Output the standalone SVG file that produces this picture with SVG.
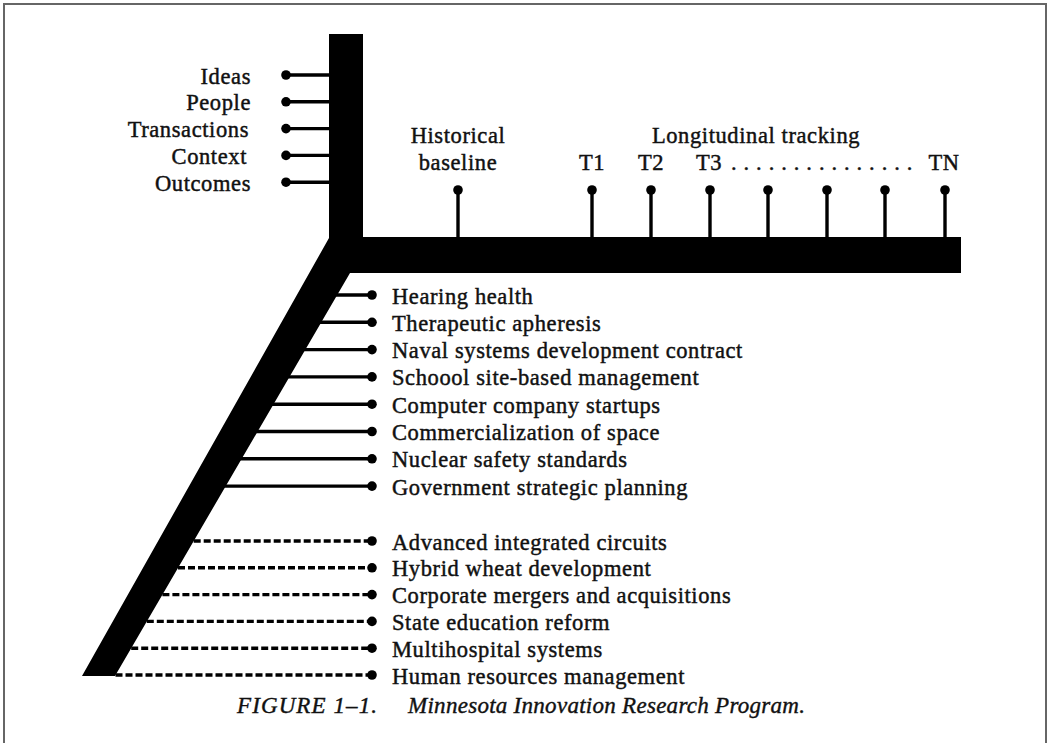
<svg xmlns="http://www.w3.org/2000/svg" width="1048" height="743" viewBox="0 0 1048 743">
  <style>
    .lbl { font-family: "Liberation Serif", "Times New Roman", serif; font-size: 22.5px; letter-spacing: 0.6px; fill: #111; stroke: #111; stroke-width: 0.45px; }
    .end { text-anchor: end; }
    .mid { text-anchor: middle; }
    .cap { font-family: "Liberation Serif", "Times New Roman", serif; font-size: 23px; font-style: italic; fill: #111; stroke: #111; stroke-width: 0.4px; }
    .tick { stroke: #000; stroke-width: 3.4; fill: none; }
    .dash { stroke: #000; stroke-width: 3.4; fill: none; stroke-dasharray: 7 3; }
    .dot { fill: #000; }
    .frame { stroke: #666; stroke-width: 2; fill: none; }
  </style>

  <rect width="1048" height="743" fill="#fff"/>
  <!-- page frame (open at the bottom) -->
  <path class="frame" d="M4,745 V4 H1046 V745"/>

  <!-- connectors -->
  <g id="connectors">
    <!-- dimensions on the vertical axis -->
    <line class="tick" x1="286" y1="75" x2="335" y2="75"/>
    <line class="tick" x1="286" y1="101.8" x2="335" y2="101.8"/>
    <line class="tick" x1="286" y1="128.6" x2="335" y2="128.6"/>
    <line class="tick" x1="286" y1="155.4" x2="335" y2="155.4"/>
    <line class="tick" x1="286" y1="182.2" x2="335" y2="182.2"/>
    <!-- time points on the horizontal axis -->
    <line class="tick" x1="458" y1="190" x2="458" y2="242"/>
    <line class="tick" x1="592" y1="190" x2="592" y2="242"/>
    <line class="tick" x1="651" y1="190" x2="651" y2="242"/>
    <line class="tick" x1="710" y1="190" x2="710" y2="242"/>
    <line class="tick" x1="768" y1="190" x2="768" y2="242"/>
    <line class="tick" x1="827" y1="190" x2="827" y2="242"/>
    <line class="tick" x1="885" y1="190" x2="885" y2="242"/>
    <line class="tick" x1="945" y1="190" x2="945" y2="242"/>
    <!-- studies in progress (solid) -->
    <line class="tick" x1="332" y1="295" x2="372" y2="295"/>
    <line class="tick" x1="316" y1="322.3" x2="372" y2="322.3"/>
    <line class="tick" x1="300" y1="349.6" x2="372" y2="349.6"/>
    <line class="tick" x1="284" y1="376.9" x2="372" y2="376.9"/>
    <line class="tick" x1="268" y1="404.2" x2="372" y2="404.2"/>
    <line class="tick" x1="252" y1="431.5" x2="372" y2="431.5"/>
    <line class="tick" x1="236" y1="458.8" x2="372" y2="458.8"/>
    <line class="tick" x1="220" y1="486.1" x2="372" y2="486.1"/>
    <!-- completed studies (dashed) -->
    <line class="dash" x1="193.7" y1="541" x2="372" y2="541"/>
    <line class="dash" x1="178" y1="567.8" x2="372" y2="567.8"/>
    <line class="dash" x1="162.4" y1="594.6" x2="372" y2="594.6"/>
    <line class="dash" x1="146.8" y1="621.4" x2="372" y2="621.4"/>
    <line class="dash" x1="131.2" y1="648.2" x2="372" y2="648.2"/>
    <line class="dash" x1="115.5" y1="675" x2="372" y2="675"/>
  </g>

  <!-- main axis: vertical bar, horizontal bar and slanted bar -->
  <g id="axis">
    <polygon fill="#000" points="329,34 363,34 363,237 961,237 961,273 350,273 115,676 82,676 329,238"/>
  </g>

  <!-- dimensions -->
  <g id="dimensions">
    <circle class="dot" cx="286" cy="75" r="4.8"/>
    <circle class="dot" cx="286" cy="101.8" r="4.8"/>
    <circle class="dot" cx="286" cy="128.6" r="4.8"/>
    <circle class="dot" cx="286" cy="155.4" r="4.8"/>
    <circle class="dot" cx="286" cy="182.2" r="4.8"/>
    <text class="lbl end" x="251" y="83.5">Ideas</text>
    <text class="lbl end" x="251" y="110.3">People</text>
    <text class="lbl end" x="249" y="137.1">Transactions</text>
    <text class="lbl end" x="247" y="163.9">Context</text>
    <text class="lbl end" x="251" y="190.7">Outcomes</text>
  </g>

  <!-- time points -->
  <g id="timeline">
    <circle class="dot" cx="458" cy="190" r="4.8"/>
    <circle class="dot" cx="592" cy="190" r="4.8"/>
    <circle class="dot" cx="651" cy="190" r="4.8"/>
    <circle class="dot" cx="710" cy="190" r="4.8"/>
    <circle class="dot" cx="768" cy="190" r="4.8"/>
    <circle class="dot" cx="827" cy="190" r="4.8"/>
    <circle class="dot" cx="885" cy="190" r="4.8"/>
    <circle class="dot" cx="945" cy="190" r="4.8"/>
    <text class="lbl mid" x="458" y="143">Historical</text>
    <text class="lbl mid" x="458" y="170">baseline</text>
    <text class="lbl mid" x="756" y="143">Longitudinal tracking</text>
    <text class="lbl mid" x="592" y="170">T1</text>
    <text class="lbl mid" x="651" y="170">T2</text>
    <text class="lbl mid" x="709" y="170">T3</text>
    <text class="lbl" x="731" y="170" textLength="182" lengthAdjust="spacing">. . . . . . . . . . . . . . .</text>
    <text class="lbl mid" x="944" y="170">TN</text>
  </g>

  <!-- studies in progress -->
  <g id="current-studies">
    <circle class="dot" cx="372" cy="295" r="4.8"/>
    <circle class="dot" cx="372" cy="322.3" r="4.8"/>
    <circle class="dot" cx="372" cy="349.6" r="4.8"/>
    <circle class="dot" cx="372" cy="376.9" r="4.8"/>
    <circle class="dot" cx="372" cy="404.2" r="4.8"/>
    <circle class="dot" cx="372" cy="431.5" r="4.8"/>
    <circle class="dot" cx="372" cy="458.8" r="4.8"/>
    <circle class="dot" cx="372" cy="486.1" r="4.8"/>
    <text class="lbl" x="392" y="303.5">Hearing health</text>
    <text class="lbl" x="392" y="330.8">Therapeutic apheresis</text>
    <text class="lbl" x="392" y="358.1">Naval systems development contract</text>
    <text class="lbl" x="392" y="385.4">Schoool site-based management</text>
    <text class="lbl" x="392" y="412.7">Computer company startups</text>
    <text class="lbl" x="392" y="440">Commercialization of space</text>
    <text class="lbl" x="392" y="467.3">Nuclear safety standards</text>
    <text class="lbl" x="392" y="494.6">Government strategic planning</text>
  </g>

  <!-- completed studies -->
  <g id="past-studies">
    <circle class="dot" cx="372" cy="541" r="4.8"/>
    <circle class="dot" cx="372" cy="567.8" r="4.8"/>
    <circle class="dot" cx="372" cy="594.6" r="4.8"/>
    <circle class="dot" cx="372" cy="621.4" r="4.8"/>
    <circle class="dot" cx="372" cy="648.2" r="4.8"/>
    <circle class="dot" cx="372" cy="675" r="4.8"/>
    <text class="lbl" x="392" y="549.5">Advanced integrated circuits</text>
    <text class="lbl" x="392" y="576.3">Hybrid wheat development</text>
    <text class="lbl" x="392" y="603.1">Corporate mergers and acquisitions</text>
    <text class="lbl" x="392" y="629.9">State education reform</text>
    <text class="lbl" x="392" y="656.7">Multihospital systems</text>
    <text class="lbl" x="392" y="683.5">Human resources management</text>
  </g>

  <!-- caption -->
  <g id="caption">
    <text class="cap" x="237" y="713" textLength="140" lengthAdjust="spacing">FIGURE 1–1.</text>
    <text class="cap" x="408" y="713" textLength="397" lengthAdjust="spacing">Minnesota Innovation Research Program.</text>
  </g>
</svg>
